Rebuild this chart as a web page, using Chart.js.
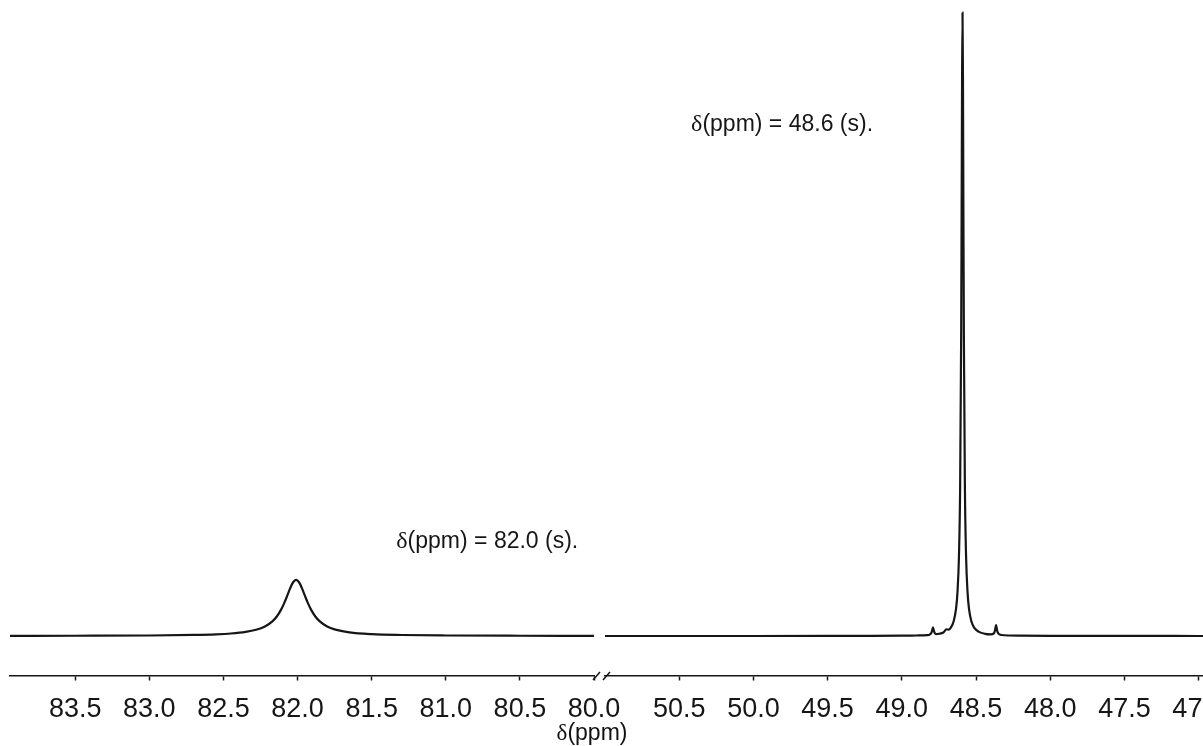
<!DOCTYPE html>
<html>
<head>
<meta charset="utf-8">
<script src="https://cdn.jsdelivr.net/npm/chart.js@4/dist/chart.umd.min.js"></script>
<style>
html, body { margin: 0; padding: 0; background: #fff; width: 1203px; height: 746px; overflow: hidden; position: relative; }
canvas { position: absolute; top: 0; }
#left { left: -30px; }
#right { left: 565px; }
#xtitle { position: absolute; left: 540px; width: 104px; top: 719px; text-align: center; font: 23px "Liberation Sans"; color: #111; }
</style>
</head>
<body>
<canvas id="left" width="664" height="746"></canvas>
<canvas id="right" width="733" height="746"></canvas>
<div id="xtitle"><span style="font-family:'Liberation Serif'">δ</span>(ppm)</div>
<script>
// left panel (83.9 - 80.0 ppm), broad singlet at 82.0
const leftPpm = [83.94, 83.5, 83.0, 82.7, 82.55, 82.45, 82.35, 82.28, 82.22, 82.17,
  82.14, 82.11, 82.09, 82.07, 82.05, 82.03, 82.01, 81.99, 81.97, 81.95,
  81.93, 81.91, 81.88, 81.85, 81.80, 81.75, 81.65, 81.50, 81.30, 81.0, 80.5, 80.0];
const leftInt = [0.02, 0.04, 0.08, 0.17, 0.27, 0.40, 0.65, 0.99, 1.53, 2.35,
  3.13, 4.27, 5.27, 6.43, 7.64, 8.62, 9.0, 8.62, 7.64, 6.43,
  5.27, 4.27, 3.13, 2.35, 1.53, 1.06, 0.59, 0.30, 0.16, 0.08, 0.04, 0.02];

// right panel (51.0 - 46.6 ppm), sharp singlet at 48.6 with two small satellites
const rightPpm = [51.0, 50.0, 49.5, 49.2, 49.0, 48.9, 48.83, 48.81, 48.80, 48.795,
  48.79, 48.785, 48.78, 48.77, 48.75, 48.72, 48.70, 48.685, 48.67, 48.65,
  48.635, 48.625, 48.615, 48.607, 48.6, 48.597, 48.594, 48.591, 48.588, 48.585,
  48.582, 48.575, 48.567, 48.557, 48.547, 48.532, 48.51, 48.48, 48.44, 48.40,
  48.38, 48.372, 48.365, 48.358, 48.35, 48.33, 48.2, 48.0, 47.5, 47.0, 46.6];
const rightInt = [0, 0, 0.01, 0.02, 0.05, 0.08, 0.13, 0.27, 0.55, 0.95,
  1.40, 0.95, 0.55, 0.31, 0.36, 0.56, 1.05, 1.02, 1.35, 2.4,
  4.3, 7.0, 12.8, 24.0, 48.6, 68.0, 89.5, 100, 89.5, 68.0,
  48.6, 24.0, 12.8, 7.0, 4.3, 2.4, 1.25, 0.66, 0.35, 0.27,
  0.42, 0.90, 1.75, 0.88, 0.40, 0.16, 0.05, 0.02, 0.01, 0, 0];

const leftTicks = [83.5, 83.0, 82.5, 82.0, 81.5, 81.0, 80.5, 80.0];
const rightTicks = [50.5, 50.0, 49.5, 49.0, 48.5, 48.0, 47.5, 47.0];
const leftRange = [80.0, 83.94];
const rightRange = [46.6, 51.0];

// peak annotations: text, ppm position, height
const noteText = ['δ(ppm) = 82.0 (s).', 'δ(ppm) = 48.6 (s).'];
const notePpm = [80.72, 49.807];
const noteY = [15.2, 82.0];

const INK = '#161616';

function drawNote(ctx, text, cx, cy) {
  const head = text.slice(0, 1), rest = text.slice(1);
  ctx.save();
  ctx.fillStyle = INK;
  ctx.textBaseline = 'middle';
  ctx.textAlign = 'left';
  ctx.font = '24px "Liberation Serif"';
  const w1 = ctx.measureText(head).width;
  ctx.font = '23px "Liberation Sans"';
  const w2 = ctx.measureText(rest).width;
  let x = cx - (w1 + w2) / 2;
  ctx.font = '24px "Liberation Serif"';
  ctx.fillText(head, x, cy);
  ctx.font = '23px "Liberation Sans"';
  ctx.fillText(rest, x + w1, cy);
  ctx.restore();
}

function makeChart(id, ppm, inten, ticks, range, noteIdx, withBreak) {
  const notes = {
    id: 'notes',
    afterDraw(chart) {
      const ctx = chart.ctx;
      const xs = chart.scales.x, ys = chart.scales.y;
      noteIdx.forEach(i => drawNote(ctx, noteText[i], xs.getPixelForValue(notePpm[i]), ys.getPixelForValue(noteY[i])));
      if (withBreak) {
        const a = chart.chartArea;
        ctx.save();
        ctx.strokeStyle = INK;
        ctx.lineWidth = 1.5;
        ctx.beginPath();
        ctx.moveTo(a.right - 1, a.bottom + 4.5); ctx.lineTo(a.right + 6, a.bottom - 3.5);
        ctx.moveTo(a.right + 9, a.bottom + 4.5); ctx.lineTo(a.right + 16, a.bottom - 3.5);
        ctx.stroke();
        ctx.restore();
      }
    }
  };
  return new Chart(document.getElementById(id), {
    type: 'line',
    data: {
      datasets: [{
        data: ppm.map((p, i) => ({ x: p, y: inten[i] })),
        borderColor: INK,
        borderWidth: 2.2,
        pointRadius: 0,
        fill: false,
        cubicInterpolationMode: 'monotone'
      }]
    },
    options: {
      responsive: false,
      animation: false,
      devicePixelRatio: 1,
      layout: { padding: { left: 40, right: 40, top: 0, bottom: 0 } },
      plugins: { legend: { display: false }, tooltip: { enabled: false } },
      scales: {
        x: {
          type: 'linear',
          reverse: true,
          min: range[0],
          max: range[1],
          afterBuildTicks: s => { s.ticks = ticks.map(v => ({ value: v })); },
          afterFit: s => { s.height = 70.5; },
          border: { display: true, color: INK, width: 1.5 },
          grid: { display: true, drawOnChartArea: false, drawTicks: true, tickLength: 5, tickWidth: 1.5, tickColor: INK },
          ticks: {
            font: { family: 'Liberation Sans', size: 27 },
            color: INK,
            padding: 13,
            maxRotation: 0,
            autoSkip: false,
            callback: v => Number(v).toFixed(1)
          }
        },
        y: { display: false, min: -6.34, max: 102.03 }
      }
    },
    plugins: [notes]
  });
}

makeChart('left', leftPpm, leftInt, leftTicks, leftRange, [0], true);
makeChart('right', rightPpm, rightInt, rightTicks, rightRange, [1], false);
</script>
</body>
</html>
